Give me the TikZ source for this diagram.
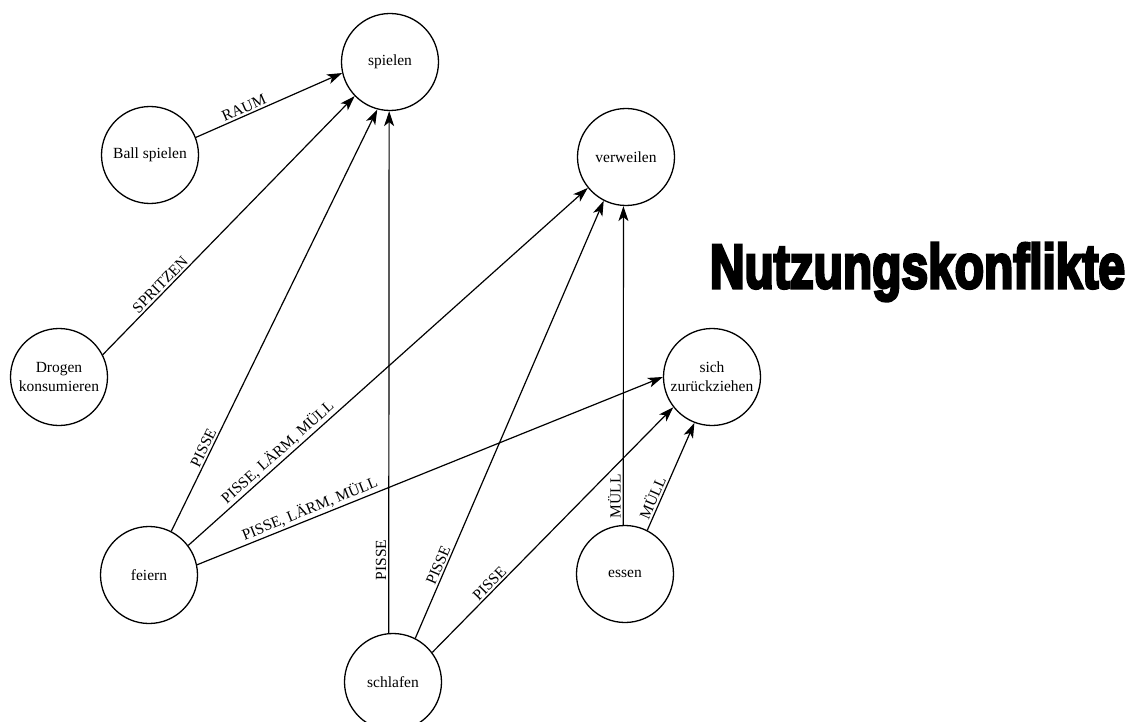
\documentclass[tikz,border=0pt]{standalone}
\usepackage{fontspec}
\setmainfont{Liberation Serif}
\newfontfamily\titlefont[BoldFeatures={FakeBold=5}]{Liberation Sans}
\usetikzlibrary{arrows.meta}
\begin{document}
\begin{tikzpicture}[x=1pt,y=-1pt,
  act/.style={circle,draw,line width=1.3pt,minimum size=97pt,inner sep=0pt,align=center,
    font=\fontsize{15.5pt}{19pt}\selectfont},
  conn/.style={line width=1.2pt,-{Stealth[length=15pt,width=10pt,inset=4pt]}},
  lab/.style={sloped,above,inner sep=2pt,font=\fontsize{15.5pt}{19pt}\selectfont}]
\fill[white] (0,0) rectangle (1135,722);
\useasboundingbox (0,0) rectangle (1135,722);
\node[act] (spielen) at (390,62) {spielen};
\node[act] (ball) at (150,155) {Ball spielen};
\node[act] (drogen) at (59,377) {Drogen\\konsumieren};
\node[act] (feiern) at (149,575) {feiern};
\node[act] (schlafen) at (393,682) {schlafen};
\node[act] (essen) at (625,574) {essen};
\node[act] (verweilen) at (626,157) {verweilen};
\node[act] (sich) at (712,377) {sich\\zurückziehen};
\node[anchor=base,inner sep=0pt] (title) at (917.5,288)
  {\resizebox{415pt}{45pt}{\titlefont\bfseries Nutzungskonflikte}};
\draw[conn] (ball.21) -- node[lab,pos=0.35] {RAUM} (spielen.-167);
\draw[conn] (drogen.27) -- node[lab,pos=0.25] {SPRITZEN} (spielen.-136);
\draw[conn] (feiern.63) -- node[lab,pos=0.19] {PISSE} (spielen.-105);
\draw[conn] (feiern.37) -- node[lab,pos=0.24] {PISSE, LÄRM, MÜLL} (verweilen.-141);
\draw[conn] (feiern.12) -- node[lab,pos=0.25] {PISSE, LÄRM, MÜLL} (sich.180);
\draw[conn] (schlafen.95) -- node[lab,pos=0.14] {PISSE} (spielen.-91);
\draw[conn] (schlafen.63) -- node[lab,pos=0.16] {PISSE} (verweilen.-117);
\draw[conn] (schlafen.37) -- node[lab,pos=0.26] {PISSE} (sich.-142);
\draw[conn] (essen.92) -- node[lab,pos=0.09] {MÜLL} (verweilen.-93);
\draw[conn] (essen.63) -- node[lab,pos=0.27] {MÜLL} (sich.-111);
\end{tikzpicture}
\end{document}
